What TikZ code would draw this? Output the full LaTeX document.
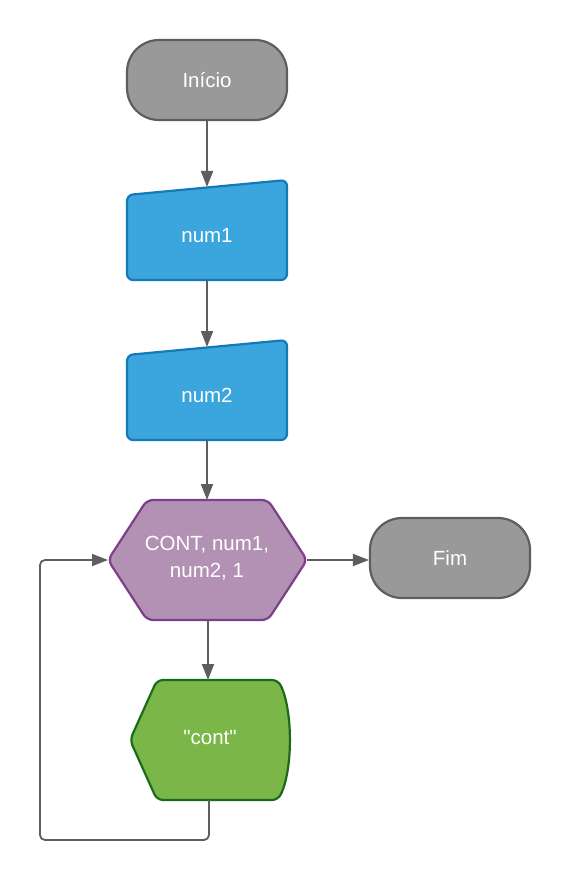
\documentclass[tikz,border=0pt]{standalone}
\usepackage{fontspec}
\setmainfont{Liberation Sans}[Ligatures=TeXOff]
\usetikzlibrary{arrows.meta}
\definecolor{termfill}{HTML}{999999}
\definecolor{termdraw}{HTML}{5E5E5E}
\definecolor{bluefill}{HTML}{3BA5DD}
\definecolor{bluedraw}{HTML}{1579B8}
\definecolor{purpfill}{HTML}{B391B5}
\definecolor{purpdraw}{HTML}{7E3F8A}
\definecolor{greenfill}{HTML}{7AB648}
\definecolor{greendraw}{HTML}{1B6B1B}
\definecolor{conncol}{HTML}{5E5E5E}
\begin{document}
\begin{tikzpicture}[x=1pt,y=-1pt,
  txt/.style={text=white,font=\fontsize{20.5}{26.5}\selectfont,align=center},
  term/.style={txt,draw=termdraw,fill=termfill,line width=2.2pt,rounded corners=32pt,minimum width=160pt,minimum height=80pt,inner sep=0pt},
  manin/.style={draw=bluedraw,fill=bluefill,line width=2.2pt,rounded corners=6pt},
  hexa/.style={draw=purpdraw,fill=purpfill,line width=2.2pt,rounded corners=6pt},
  disp/.style={draw=greendraw,fill=greenfill,line width=2.2pt,rounded corners=6pt},
  conn/.style={draw=conncol,line width=1.8pt,-{Triangle[length=16pt,width=12pt]}},
  loopline/.style={draw=conncol,line width=1.8pt,rounded corners=5pt,-{Triangle[length=16pt,width=12pt]}}]
\useasboundingbox (0,0) rectangle (570,882);
% terminals
\node[term] (inicio) at (207,80) {Início};
\node[term] (fim) at (450,558) {Fim};
% manual inputs
\draw[manin] (127,195) -- (287,180) -- (287,280) -- (127,280) -- cycle;
\node[txt] (num1) at (207,236) {num1};
\draw[manin] (127,355) -- (287,340) -- (287,440) -- (127,440) -- cycle;
\node[txt] (num2) at (207,395) {num2};
% hexagon
\draw[hexa] (147,500) -- (268,500) -- (307,560) -- (268,620) -- (147,620) -- (108,560) -- cycle;
\node[txt] (loop) at (207,558) {CONT, num1,\\num2, 1};
% display
\draw[disp] (157,680) -- (278,680) .. controls (293,710) and (293,770) .. (278,800) -- (157,800) -- (130,740) -- cycle;
\node[txt] (cont) at (210,738) {"cont"};
% anchor coordinates
\coordinate (in1T) at (207,187);
\coordinate (in1B) at (207,280);
\coordinate (in2T) at (207,347);
\coordinate (in2B) at (207,440);
\coordinate (hexT) at (207,500);
\coordinate (hexB) at (208,620);
\coordinate (hexL) at (108,560);
\coordinate (hexR) at (307,560);
\coordinate (dispT) at (208,680);
\coordinate (dispB) at (209,800);
\coordinate (loopA) at (209,840);
\coordinate (loopB) at (40,840);
\coordinate (loopC) at (40,560);
% connectors
\draw[conn] (inicio.south) -- (in1T);
\draw[conn] (in1B) -- (in2T);
\draw[conn] (in2B) -- (hexT);
\draw[conn] (hexR) -- (fim.west |- hexR);
\draw[conn] (hexB) -- (dispT);
\draw[loopline] (dispB) -- (loopA) -- (loopB) -- (loopC) -- (hexL);
\end{tikzpicture}
\end{document}
